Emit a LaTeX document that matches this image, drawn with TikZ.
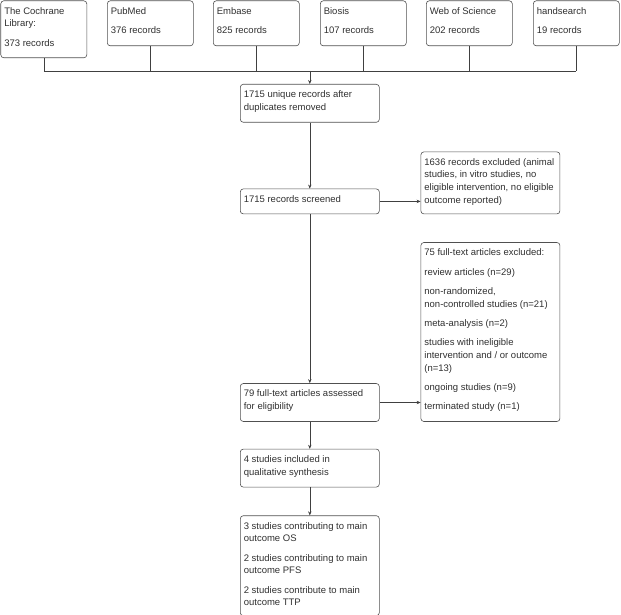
\documentclass[tikz,border=0pt]{standalone}
\usepackage{fontspec}
\setmainfont{Liberation Sans}
\usetikzlibrary{arrows.meta, positioning}
\definecolor{boxgray}{HTML}{505050}
\definecolor{linegray}{HTML}{404040}
\definecolor{textgray}{HTML}{303030}

\begin{document}
\begin{tikzpicture}[x=1pt,y=-1pt,
  rec/.style={draw=boxgray, line width=0.6pt, rounded corners=3pt, anchor=north west,
    inner xsep=3.5pt, inner ysep=4.5pt, text=textgray, font=\fontsize{9.5}{12.7}\selectfont},
  link/.style={draw=linegray, line width=0.6pt},
  flow/.style={link, -{Stealth[length=4pt,width=3.4pt]}}]
\useasboundingbox (0,0) rectangle (621,615);
\def\txt#1#2#3{\parbox[t][#2pt][t]{#1pt}{\raggedright\strut#3}}
\def\gap{\\[6.6pt]}

% sources
\node[rec] (cochrane) at (0.5,0.5) {\txt{79}{48}{The Cochrane\\Library:\gap 373 records}};
\node[rec] (pubmed) at (107,0.5) {\txt{79}{36}{PubMed\gap 376 records}};
\node[rec] (embase) at (213,0.5) {\txt{79}{36}{Embase\gap 825 records}};
\node[rec] (biosis) at (320,0.5) {\txt{79}{36}{Biosis\gap 107 records}};
\node[rec] (wos) at (426,0.5) {\txt{79}{36}{Web of Science\gap 202 records}};
\node[rec] (hand) at (533,0.5) {\txt{79}{36}{handsearch\gap 19 records}};

% main column
\node[rec] (unique) at (240,84) {\txt{132}{29}{1715 unique records after\\duplicates removed}};
\node[rec, below=66pt of unique] (screened) {\txt{132}{16}{1715 records screened}};
\node[rec, below=169pt of screened] (fulltext) {\txt{132}{29}{79 full-text articles assessed\\for eligibility}};
\node[rec, below=27pt of fulltext] (included) {\txt{132}{29}{4 studies included in\\qualitative synthesis}};
\node[rec, below=28pt of included] (outcomes) {\txt{132}{91}{3 studies contributing to main\\outcome OS\gap 2 studies contributing to main\\outcome PFS\gap 2 studies contribute to main\\outcome TTP}};

% exclusions
\node[rec, anchor=south west] (excluded) at ([xshift=41pt]screened.south east)
  {\txt{132}{53}{1636 records excluded (animal\\studies, in vitro studies, no\\eligible intervention, no eligible\\outcome reported)}};
\node[rec, anchor=south west] (ftexcluded) at ([xshift=41pt]fulltext.south east)
  {\txt{132}{170}{75 full-text articles excluded:\gap review articles (n=29)\gap non-randomized,\\non-controlled studies (n=21)\gap meta-analysis (n=2)\gap studies with ineligible\\intervention and / or outcome\\(n=13)\gap ongoing studies (n=9)\gap terminated study (n=1)}};

% connectors
\coordinate (Bus) at (0,71);
\foreach \src in {cochrane,pubmed,embase,biosis,wos,hand}
  \draw[link] (\src.south) -- (\src.south |- Bus);
\draw[link] (cochrane.south |- Bus) -- (hand.south |- Bus);
\draw[flow] (unique.north |- Bus) -- (unique.north);
\draw[flow] (unique) -- (screened);
\draw[flow] (screened) -- (fulltext);
\draw[flow] (fulltext) -- (included);
\draw[flow] (included) -- (outcomes);
\draw[flow] (screened.east) -- (screened.east -| excluded.west);
\draw[flow] (fulltext.east) -- (fulltext.east -| ftexcluded.west);
\end{tikzpicture}
\end{document}
